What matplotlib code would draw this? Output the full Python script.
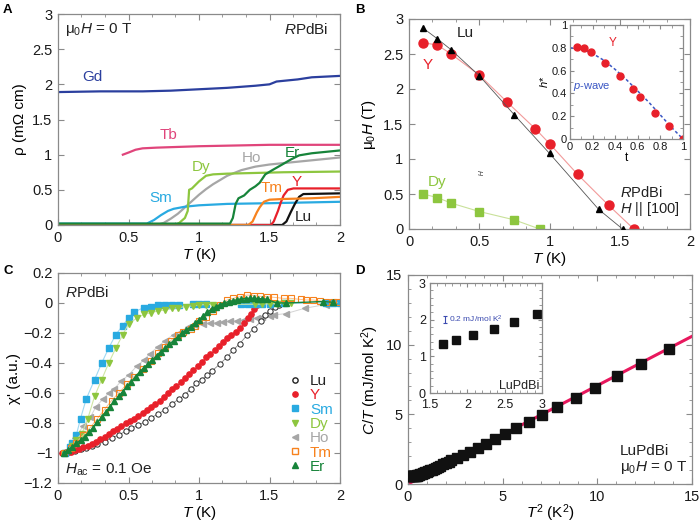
import numpy as np
import matplotlib
matplotlib.use("Agg")
import matplotlib.pyplot as plt
from matplotlib.ticker import MultipleLocator, AutoMinorLocator, FuncFormatter
from matplotlib.lines import Line2D

plt.rcParams['font.family'] = ['Liberation Sans', 'DejaVu Sans']
plt.rcParams['mathtext.fontset'] = 'custom'
plt.rcParams['mathtext.rm'] = 'Liberation Sans'
plt.rcParams['mathtext.it'] = 'Liberation Sans:italic'
plt.rcParams['mathtext.bf'] = 'Liberation Sans:bold'
plt.rcParams['axes.unicode_minus'] = True

MU0H = '$\\mathrm{μ}_0\\mathit{H}$'

# ---------------- colours ----------------
C_GD = '#2b3f9e'; C_TB = '#e0457b'; C_DY = '#8dc63f'; C_HO = '#a6a6a6'
C_ER = '#17843a'; C_SM = '#29aae1'; C_TM = '#f7821e'; C_Y = '#e8202a'; C_LU = '#111111'

# ---------------- Panel A data (rho vs T) ----------------
gd_T = [0, 0.3, 0.6, 0.8, 1.0, 1.2, 1.4, 1.5, 1.55, 1.7, 1.8, 1.9, 2.0]
gd_r = [1.89, 1.9, 1.9, 1.91, 1.93, 1.95, 1.98, 2.0, 2.04, 2.07, 2.1, 2.11, 2.12]
tb_T = [0.46, 0.5, 0.55, 0.6, 0.7, 1.0, 1.5, 2.0]
tb_r = [1.0, 1.03, 1.07, 1.09, 1.1, 1.12, 1.14, 1.14]
dy_T = [0, 0.83, 0.86, 0.9, 0.92, 0.93, 0.95, 0.97, 1.0, 1.05, 1.1, 1.2, 1.4, 1.6, 2.0]
dy_r = [0.0, 0.0, 0.03, 0.1, 0.2, 0.5, 0.52, 0.56, 0.62, 0.7, 0.72, 0.73, 0.74, 0.75, 0.76]
ho_T = [0, 0.7, 0.75, 0.8, 0.85, 0.9, 0.95, 1.0, 1.05, 1.1, 1.15, 1.2, 1.3, 1.4, 1.5, 1.6, 1.7, 1.8, 1.9, 2.0]
ho_r = [0, 0, 0.03, 0.09, 0.16, 0.25, 0.34, 0.43, 0.51, 0.58, 0.64, 0.7, 0.78, 0.83, 0.86, 0.88, 0.9, 0.92, 0.94, 0.96]
er_T = [0, 1.22, 1.24, 1.26, 1.28, 1.32, 1.36, 1.4, 1.43, 1.47, 1.52, 1.59, 1.65, 1.71, 1.8, 1.9, 2.0]
er_r = [0.02, 0.02, 0.1, 0.3, 0.38, 0.42, 0.5, 0.55, 0.6, 0.72, 0.78, 0.86, 0.93, 0.99, 1.02, 1.04, 1.06]
sm_T = [0, 0.63, 0.68, 0.73, 0.78, 0.82, 0.9, 1.0, 1.2, 1.5, 2.0]
sm_r = [0.02, 0.02, 0.07, 0.14, 0.2, 0.23, 0.26, 0.28, 0.3, 0.31, 0.33]
tm_T = [0, 1.35, 1.38, 1.41, 1.43, 1.46, 1.5, 1.6, 1.8, 2.0]
tm_r = [0, 0, 0.05, 0.18, 0.25, 0.33, 0.36, 0.37, 0.38, 0.4]
y_T = [0, 1.51, 1.53, 1.56, 1.58, 1.6, 1.63, 1.67, 2.0]
y_r = [0, 0, 0.05, 0.2, 0.32, 0.42, 0.5, 0.52, 0.52]
lu_T = [0, 1.59, 1.62, 1.65, 1.68, 1.71, 1.74, 2.0]
lu_r = [0, 0, 0.05, 0.18, 0.3, 0.4, 0.44, 0.45]

# ---------------- Panel B data (Hc2 vs T) ----------------
bLu_T = [0.1, 0.2, 0.3, 0.5, 0.75, 1.0, 1.35, 1.52]
bLu_H = [2.87, 2.72, 2.56, 2.19, 1.63, 1.08, 0.28, 0.0]
bY_T = [0.1, 0.2, 0.3, 0.5, 0.7, 0.9, 1.0, 1.2, 1.42, 1.6]
bY_H = [2.66, 2.63, 2.5, 2.2, 1.81, 1.43, 1.22, 0.78, 0.34, 0.0]
bDy_T = [0.1, 0.2, 0.3, 0.5, 0.75, 0.93]
bDy_H = [0.5, 0.45, 0.37, 0.25, 0.13, 0.0]
ins_t = [0.06, 0.12, 0.19, 0.31, 0.44, 0.56, 0.62, 0.75, 0.88, 1.0]
ins_h = [0.81, 0.80, 0.76, 0.67, 0.55, 0.44, 0.37, 0.23, 0.11, 0.0]
pw_t = [0, 0.1, 0.2, 0.3, 0.4, 0.5, 0.6, 0.7, 0.8, 0.9, 1.0]
pw_h = [0.80, 0.79, 0.75, 0.69, 0.61, 0.52, 0.42, 0.32, 0.21, 0.10, 0.0]

# ---------------- Panel C data (chi' vs T) ----------------
cLu_T = [0.04, 0.08, 0.12, 0.16, 0.20, 0.24, 0.28, 0.33, 0.38, 0.43, 0.48, 0.52, 0.57, 0.62, 0.66, 0.71,
         0.76, 0.81, 0.86, 0.90, 0.94, 0.98, 1.02, 1.06, 1.09, 1.15, 1.20, 1.24, 1.29, 1.34, 1.39, 1.44,
         1.47, 1.50, 1.54, 1.57]
cLu_X = [-1.0, -0.995, -0.985, -0.975, -0.965, -0.955, -0.94, -0.925, -0.90, -0.88, -0.855, -0.835,
         -0.815, -0.79, -0.765, -0.74, -0.71, -0.67, -0.64, -0.61, -0.575, -0.535, -0.51, -0.48, -0.455,
         -0.405, -0.36, -0.315, -0.27, -0.215, -0.17, -0.12, -0.08, -0.05, -0.025, -0.01]
cY_T = [0.03, 0.06, 0.09, 0.12, 0.15, 0.18, 0.21, 0.24, 0.27, 0.30, 0.33, 0.36, 0.39, 0.42, 0.45, 0.48,
        0.51, 0.54, 0.57, 0.60, 0.63, 0.66, 0.69, 0.72, 0.75, 0.78, 0.81, 0.84, 0.87, 0.90, 0.93, 0.96,
        0.99, 1.02, 1.05, 1.08, 1.11, 1.14, 1.17, 1.20, 1.23, 1.26, 1.29, 1.32, 1.35, 1.37, 1.39, 1.41,
        1.43, 1.45]
cY_X = [-1.0, -0.995, -0.99, -0.98, -0.97, -0.96, -0.95, -0.94, -0.925, -0.905, -0.89, -0.875, -0.855,
        -0.84, -0.82, -0.80, -0.785, -0.77, -0.75, -0.735, -0.715, -0.695, -0.675, -0.65, -0.625, -0.60,
        -0.575, -0.55, -0.525, -0.50, -0.475, -0.445, -0.42, -0.39, -0.36, -0.34, -0.31, -0.285, -0.26,
        -0.235, -0.21, -0.19, -0.165, -0.135, -0.10, -0.07, -0.04, -0.015, -0.005, 0.0]
cSm_T = [0.05, 0.085, 0.10, 0.13, 0.16, 0.20, 0.26, 0.31, 0.36, 0.41, 0.46, 0.50, 0.54, 0.61, 0.66, 0.71,
         0.76, 0.81, 0.86, 0.96, 1.0, 1.05, 1.3, 1.35, 1.4, 1.45, 1.5, 1.6, 1.9, 1.95, 2.0]
cSm_X = [-1.0, -0.96, -0.93, -0.88, -0.77, -0.64, -0.51, -0.40, -0.30, -0.21, -0.15, -0.10, -0.06, -0.03,
         -0.025, -0.015, -0.012, -0.012, -0.012, -0.008, -0.005, -0.005, -0.005, -0.005, -0.005, -0.004,
         -0.004, -0.003, 0.0, 0.0, 0.0]
cDy_T = [0.05, 0.10, 0.13, 0.17, 0.21, 0.26, 0.31, 0.36, 0.41, 0.46, 0.50, 0.56, 0.61, 0.66, 0.71, 0.76,
         0.81, 0.85, 0.91, 0.96, 1.0, 1.05, 1.1, 1.4, 1.45, 1.5, 1.55, 1.6, 1.65]
cDy_X = [-1.0, -0.95, -0.91, -0.87, -0.775, -0.62, -0.51, -0.40, -0.30, -0.21, -0.14, -0.10, -0.076,
         -0.064, -0.053, -0.047, -0.036, -0.03, -0.024, -0.018, -0.013, -0.01, -0.01, -0.008, -0.006,
         -0.005, -0.004, -0.003, -0.002]
cHo_T = [0.05, 0.07, 0.12, 0.18, 0.23, 0.27, 0.32, 0.36, 0.40, 0.45, 0.50, 0.56, 0.61, 0.65, 0.71, 0.76,
         0.82, 0.87, 0.92, 0.97, 1.03, 1.08, 1.13, 1.17, 1.22, 1.27, 1.32, 1.36, 1.41, 1.45, 1.50, 1.53,
         1.62, 1.75, 1.9]
cHo_X = [-1.0, -0.98, -0.9, -0.82, -0.76, -0.69, -0.64, -0.60, -0.57, -0.52, -0.48, -0.42, -0.38, -0.34,
         -0.29, -0.25, -0.21, -0.19, -0.16, -0.145, -0.137, -0.136, -0.13, -0.127, -0.122, -0.118,
         -0.113, -0.108, -0.10, -0.095, -0.088, -0.08, -0.07, -0.035, -0.01]
cTm_T = [0.04, 0.09, 0.13, 0.18, 0.23, 0.28, 0.33, 0.38, 0.43, 0.49, 0.54, 0.60, 0.66, 0.71, 0.76, 0.80,
         0.85, 0.89, 0.94, 0.97, 1.0, 1.05, 1.1, 1.15, 1.2, 1.24, 1.29, 1.34, 1.39, 1.43, 1.48, 1.53, 1.6,
         1.65, 1.72, 1.76, 1.81, 1.86, 1.9, 1.95, 1.98]
cTm_X = [-1.0, -0.965, -0.93, -0.88, -0.83, -0.77, -0.71, -0.65, -0.60, -0.54, -0.49, -0.44, -0.385,
         -0.335, -0.29, -0.25, -0.215, -0.19, -0.175, -0.155, -0.12, -0.09, -0.05, -0.01, 0.02, 0.031,
         0.042, 0.053, 0.05, 0.045, 0.042, 0.038, 0.031, 0.031, 0.024, 0.02, 0.02, 0.013, 0.01, 0.006,
         0.004]
cEr_T = [0.04, 0.07, 0.10, 0.13, 0.16, 0.19, 0.22, 0.25, 0.28, 0.31, 0.34, 0.37, 0.40, 0.43, 0.46, 0.49,
         0.52, 0.55, 0.58, 0.61, 0.64, 0.67, 0.70, 0.73, 0.76, 0.79, 0.82, 0.85, 0.88, 0.91, 0.94, 0.97,
         1.00, 1.03, 1.06, 1.09, 1.12, 1.15, 1.18, 1.21, 1.24, 1.27, 1.30, 1.33, 1.36, 1.39, 1.42, 1.45,
         1.48, 1.55, 1.62, 1.88, 1.95]
cEr_X = [-1.0, -0.98, -0.96, -0.935, -0.915, -0.89, -0.86, -0.83, -0.795, -0.76, -0.725, -0.69, -0.655,
         -0.62, -0.59, -0.555, -0.525, -0.49, -0.46, -0.43, -0.405, -0.38, -0.35, -0.325, -0.30, -0.275,
         -0.25, -0.225, -0.20, -0.18, -0.158, -0.135, -0.113, -0.085, -0.06, -0.04, -0.025, -0.01, 0.0,
         0.01, 0.015, 0.022, 0.028, 0.03, 0.031, 0.031, 0.03, 0.028, 0.025, 0.0, 0.0, 0.01, 0.005]

# ---------------- Panel D data (C/T vs T^2) ----------------
d_T2 = [0.05, 0.1, 0.15, 0.2, 0.25, 0.3, 0.35, 0.4, 0.45, 0.5, 0.55, 0.6, 0.66, 0.72, 0.78, 0.85, 0.92,
        1.0, 1.08, 1.17, 1.26, 1.36, 1.47, 1.58, 1.71, 1.85, 1.99, 2.14, 2.29, 2.59, 2.91, 3.26, 3.71,
        4.11, 4.59, 5.12, 5.73, 6.39, 7.06, 7.89, 8.86, 9.88, 11.03, 12.32, 13.76]
d_CT = [0.55, 0.55, 0.55, 0.55, 0.56, 0.57, 0.58, 0.59, 0.61, 0.63, 0.65, 0.67, 0.7, 0.73, 0.76, 0.79,
        0.83, 0.87, 0.92, 0.97, 1.03, 1.09, 1.16, 1.23, 1.31, 1.4, 1.5, 1.6, 1.71, 1.87, 2.07, 2.3, 2.6,
        2.88, 3.2, 3.57, 4.0, 4.48, 4.96, 5.53, 6.2, 6.92, 7.73, 8.64, 9.7]
fit_T2 = [0, 15]
fit_CT = [0, 10.6]
dins_T = [1.68, 1.85, 2.08, 2.36, 2.63, 2.93]
dins_CT = [1.34, 1.45, 1.58, 1.75, 1.94, 2.15]

SPINE = '#8a8a8a'

def fmt(v, p):
    s = f'{v:g}'
    return s.replace('-', '\u2212')

def style(ax, fs=10.5, xminor=3, yminor=None):
    for s in ax.spines.values():
        s.set_color(SPINE)
        s.set_linewidth(0.9)
    ax.tick_params(which='both', direction='in', top=True, right=True, color=SPINE,
                   labelsize=fs, labelcolor='#1a1a1a')
    ax.tick_params(which='major', length=4, width=0.8, pad=4)
    ax.tick_params(which='minor', length=2, width=0.6)
    if xminor:
        ax.xaxis.set_minor_locator(AutoMinorLocator(xminor))
    if yminor:
        ax.yaxis.set_minor_locator(AutoMinorLocator(yminor))
    ax.xaxis.set_major_formatter(FuncFormatter(fmt))
    ax.yaxis.set_major_formatter(FuncFormatter(fmt))

fig = plt.figure(figsize=(7.0, 5.23), dpi=100)

W, H = 700.0, 523.0
def rect(l, r, t, b):
    return [l / W, 1 - b / H, (r - l) / W, (b - t) / H]

# ======== Panel A ========
axA = fig.add_axes(rect(58, 340, 14, 225))
lw = 1.6
axA.plot(gd_T, gd_r, color=C_GD, lw=lw)
axA.plot(tb_T, tb_r, color=C_TB, lw=lw)
axA.plot(ho_T, ho_r, color=C_HO, lw=lw)
axA.plot(sm_T, sm_r, color=C_SM, lw=lw)
axA.plot(dy_T, dy_r, color=C_DY, lw=lw)
axA.plot(lu_T, lu_r, color=C_LU, lw=lw)
axA.plot(y_T, y_r, color=C_Y, lw=lw)
axA.plot(tm_T, tm_r, color=C_TM, lw=lw)
axA.plot(er_T, er_r, color=C_ER, lw=lw)
axA.set_xlim(0, 2); axA.set_ylim(0, 3)
axA.xaxis.set_major_locator(MultipleLocator(0.5))
axA.yaxis.set_major_locator(MultipleLocator(0.5))
style(axA)
axA.set_xlabel('$\\mathit{T}$ (K)', fontsize=11, labelpad=1)
axA.set_ylabel('ρ (mΩ cm)', fontsize=11, labelpad=4)
lfs = 11
axA.text(0.17, 2.1, 'Gd', color=C_GD, fontsize=lfs, va='center')
axA.text(0.72, 1.28, 'Tb', color=C_TB, fontsize=lfs, va='center')
axA.text(0.95, 0.83, 'Dy', color=C_DY, fontsize=lfs, va='center')
axA.text(1.30, 0.95, 'Ho', color=C_HO, fontsize=lfs, va='center')
axA.text(1.61, 1.02, 'Er', color=C_ER, fontsize=lfs, va='center')
axA.text(0.65, 0.38, 'Sm', color=C_SM, fontsize=lfs, va='center')
axA.text(1.44, 0.52, 'Tm', color=C_TM, fontsize=lfs, va='center')
axA.text(1.66, 0.61, 'Y', color=C_Y, fontsize=lfs, va='center')
axA.text(1.68, 0.12, 'Lu', color='#222222', fontsize=lfs, va='center')
axA.text(0.05, 2.78, MU0H + ' = 0 T', fontsize=lfs, va='center', color='#222222')
axA.text(1.92, 2.78, '$\\mathit{R}$PdBi', fontsize=lfs, va='center', ha='right', color='#222222')

# ======== Panel B ========
axB = fig.add_axes(rect(409, 690, 19, 229))
axB.plot(bLu_T, bLu_H, color='#555555', lw=0.6, marker='^', ms=4.5, mfc='black', mec='black', zorder=3)
axB.plot(bY_T, bY_H, color='#f29a9a', lw=0.8, marker='o', ms=6.5, mfc=C_Y, mec=C_Y, zorder=2)
axB.plot(bDy_T, bDy_H, color='#c9e19a', lw=0.8, marker='s', ms=5.5, mfc=C_DY, mec=C_DY, zorder=2)
axB.set_xlim(0, 2); axB.set_ylim(0, 3)
axB.xaxis.set_major_locator(MultipleLocator(0.5))
axB.yaxis.set_major_locator(MultipleLocator(0.5))
style(axB)
axB.set_xlabel('$\\mathit{T}$ (K)', fontsize=11, labelpad=1)
axB.set_ylabel(MU0H + ' (T)', fontsize=11, labelpad=4)
axB.text(0.34, 2.8, 'Lu', color='#222222', fontsize=lfs, va='center')
axB.text(0.1, 2.34, 'Y', color=C_Y, fontsize=lfs, va='center')
axB.text(0.13, 0.67, 'Dy', color=C_DY, fontsize=lfs, va='center')
axB.text(1.5, 0.52, '$\\mathit{R}$PdBi', fontsize=10.5, va='center', color='#222222')
axB.text(1.5, 0.28, '$\\mathit{H}$ || [100]', fontsize=10.5, va='center', color='#222222')
axB.text(0.505, 0.8, '$\\mathit{H}$', fontsize=5, rotation=-90, va='center', ha='center', color='#333333')

# inset B
axBi = fig.add_axes(rect(570, 683, 25, 139))
axBi.plot(pw_t, pw_h, color='#3b57c4', lw=1.1, ls=(0, (2, 1.6)))
axBi.plot(ins_t, ins_h, ls='none', marker='o', ms=5, mfc=C_Y, mec=C_Y)
axBi.set_xlim(0, 1); axBi.set_ylim(0, 1)
axBi.xaxis.set_major_locator(MultipleLocator(0.2))
axBi.yaxis.set_major_locator(MultipleLocator(0.2))
style(axBi, fs=8, xminor=2, yminor=2)
axBi.tick_params(which='major', length=3, pad=2)
axBi.set_xlabel('t', fontsize=8.5, labelpad=0)
axBi.set_ylabel('$\\mathit{h}$*', fontsize=8, labelpad=1)
axBi.text(0.34, 0.84, 'Y', color=C_Y, fontsize=8.5, va='center')
axBi.text(0.03, 0.46, '$\\mathit{p}$-wave', color='#3b57c4', fontsize=8, va='center')

# ======== Panel C ========
axC = fig.add_axes(rect(58, 340, 273, 483))
ms = 3.8
axC.plot(cHo_T, cHo_X, color='#d4d4d4', lw=0.7, marker='<', ms=ms, mfc=C_HO, mec=C_HO, label='Ho')
axC.plot(cLu_T, cLu_X, color='#888888', lw=0.6, marker='o', ms=ms, mfc='white', mec='#222222', mew=0.7, label='Lu')
axC.plot(cY_T, cY_X, color='#f29a9a', lw=0.6, marker='o', ms=ms, mfc=C_Y, mec=C_Y, label='Y')
axC.plot(cSm_T, cSm_X, color='#9fd8f2', lw=0.8, marker='s', ms=ms, mfc=C_SM, mec=C_SM, label='Sm')
axC.plot(cDy_T, cDy_X, color='#cfe6a4', lw=0.8, marker='v', ms=ms, mfc=C_DY, mec=C_DY, label='Dy')
axC.plot(cTm_T, cTm_X, color='#fbc08c', lw=0.7, marker='s', ms=ms, mfc='none', mec=C_TM, mew=0.8, label='Tm')
axC.plot(cEr_T, cEr_X, color=C_ER, lw=1.0, marker='^', ms=ms, mfc=C_ER, mec=C_ER, label='Er')
axC.set_xlim(0, 2); axC.set_ylim(-1.2, 0.2)
axC.xaxis.set_major_locator(MultipleLocator(0.5))
axC.yaxis.set_major_locator(MultipleLocator(0.2))
style(axC)
axC.set_xlabel('$\\mathit{T}$ (K)', fontsize=11, labelpad=1)
axC.set_ylabel("χ' (a.u.)", fontsize=11, labelpad=2)
axC.text(0.05, 0.07, '$\\mathit{R}$PdBi', fontsize=lfs, va='center', color='#222222')
axC.text(0.05, -1.11, '$\\mathit{H}_{\\mathrm{ac}}$ = 0.1 Oe', fontsize=lfs, va='center', color='#222222')
order = ['Lu', 'Y', 'Sm', 'Dy', 'Ho', 'Tm', 'Er']
hmap = {l.get_label(): l for l in axC.get_lines()}
handles = [Line2D([], [], ls='none', marker=hmap[k].get_marker(), ms=ms, mfc=hmap[k].get_mfc(),
                  mec=hmap[k].get_mec()) for k in order]
lcols = ['#222222', C_Y, C_SM, C_DY, C_HO, C_TM, C_ER]
axC.legend(handles, order, loc='lower left', bbox_to_anchor=(0.785, 0.0), frameon=False,
           fontsize=11, labelspacing=0.02, handlelength=0.8, handletextpad=0.6,
           borderaxespad=0.2, labelcolor=lcols)

# ======== Panel D ========
axD = fig.add_axes(rect(408, 692, 275, 484))
axD.plot(fit_T2, fit_CT, color='#e8175d', lw=2.2, zorder=2)
axD.plot(d_T2, d_CT, ls='none', marker='s', ms=6.5, mfc='#111111', mec='#111111', zorder=3)
axD.set_xlim(0, 15); axD.set_ylim(0, 15)
axD.xaxis.set_major_locator(MultipleLocator(5))
axD.yaxis.set_major_locator(MultipleLocator(5))
style(axD, xminor=5, yminor=5)
axD.set_xlabel('$\\mathit{T}^2$ (K$^2$)', fontsize=11, labelpad=-1)
axD.set_ylabel('$\\mathit{C/T}$ (mJ/mol K$^2$)', fontsize=11, labelpad=4)
axD.text(11.2, 2.37, 'LuPdBi', fontsize=lfs, va='center', color='#222222')
axD.text(11.2, 1.15, MU0H + ' = 0 T', fontsize=lfs, va='center', color='#222222')

# inset D
axDi = fig.add_axes(rect(430, 542, 283, 393))
axDi.plot(dins_T, dins_CT, ls='none', marker='s', ms=6, mfc='#111111', mec='#111111')
axDi.set_xlim(1.5, 3); axDi.set_ylim(0, 3)
axDi.xaxis.set_major_locator(MultipleLocator(0.5))
axDi.yaxis.set_major_locator(MultipleLocator(1))
style(axDi, fs=9, xminor=5, yminor=5)
axDi.tick_params(which='major', length=3, pad=2)
axDi.tick_params(axis='x', pad=4)
axDi.tick_params(axis='y', pad=3)
axDi.errorbar([1.70], [2.0], yerr=[0.1], color='#3b4bb0', lw=0.8, capsize=1.5, capthick=0.8)
axDi.text(1.76, 2.0, '0.2 mJ/mol K$^2$', color='#3b4bb0', fontsize=6, va='center')
axDi.text(2.97, 0.2, 'LuPdBi', fontsize=9, ha='right', va='center', color='#222222')

# panel letters
for lbl, x, y in [('A', 3, 4), ('B', 355, 4), ('C', 3, 265), ('D', 355, 265)]:
    fig.text(x / W, 1 - y / H, lbl, fontsize=9.5, fontweight='bold', va='top', ha='left')

fig.savefig('out.png', dpi=100)
